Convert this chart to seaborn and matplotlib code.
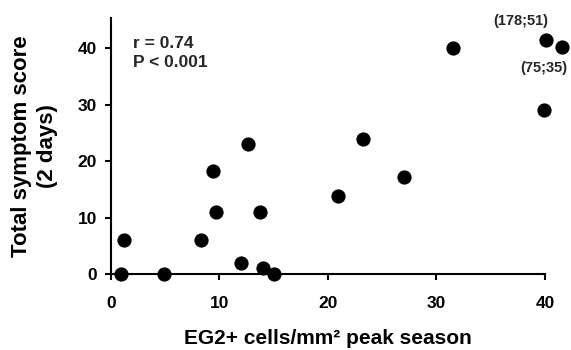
import matplotlib
matplotlib.use("Agg")
import matplotlib.pyplot as plt
import seaborn as sns
import pandas as pd

# Data
eg2_cells = [0.9, 1.2, 4.9, 8.3, 9.4, 9.7, 12.0, 12.6, 13.7, 14.0, 15.0,
             20.9, 23.2, 27.0, 31.5, 39.9, 40.1, 41.6]
symptom_score = [0, 6, 0, 6, 18.3, 11, 1.9, 23, 11, 1.1, 0,
                 13.9, 24, 17.2, 40, 29, 41.5, 40.2]
x_ticks = [0, 10, 20, 30, 40]
y_ticks = [0, 10, 20, 30, 40]
annotations = ["(178;51)", "(75;35)"]
stats_text = "r = 0.74\nP < 0.001"

df = pd.DataFrame({"x": eg2_cells, "y": symptom_score})

sns.set_theme(style="white")
plt.rcParams["font.family"] = ["Liberation Sans", "DejaVu Sans"]
plt.rcParams["font.weight"] = "bold"

fig = plt.figure(figsize=(5.71, 3.5), dpi=100)
ax = fig.add_axes([0.1944, 0.217, 0.760, 0.731])

sns.scatterplot(data=df, x="x", y="y", ax=ax, color="black", s=105,
                edgecolor="black", linewidth=0, clip_on=False, zorder=3, legend=False)

ax.set_xlim(0, 40)
ax.set_ylim(0, 45.3)
ax.set_xticks(x_ticks)
ax.set_yticks(y_ticks)
ax.set_xticklabels([str(t) for t in x_ticks], fontsize=12.5, fontweight="bold")
ax.set_yticklabels([str(t) for t in y_ticks], fontsize=12.5, fontweight="bold")

for side in ["top", "right"]:
    ax.spines[side].set_visible(False)
for side in ["left", "bottom"]:
    ax.spines[side].set_linewidth(1.5)
    ax.spines[side].set_color("black")
ax.spines["bottom"].set_bounds(0, 40)

ax.tick_params(axis="both", direction="out", length=4.5, width=1.5, color="black",
               labelcolor="black", bottom=True, left=True)
ax.tick_params(axis="x", pad=11)
ax.tick_params(axis="y", pad=5.5)

ax.set_xlabel("EG2+ cells/mm² peak season", fontsize=15,
              fontweight="bold", labelpad=13, color="black")
ax.set_ylabel("Total symptom score\n(2 days)", fontsize=16, fontweight="bold",
              labelpad=14.5, color="black", linespacing=1.3)

ax.text(0.05, 0.93, stats_text, transform=ax.transAxes, fontsize=12.5,
        fontweight="bold", va="top", ha="left", linespacing=1.3)

ax.annotate(annotations[0], xy=(eg2_cells[16], symptom_score[16]),
            xytext=(-18, 13.5), textcoords="offset points", ha="center",
            va="center", fontsize=10.5, fontweight="bold", annotation_clip=False)
ax.annotate(annotations[1], xy=(eg2_cells[16], symptom_score[16]),
            xytext=(-1.4, -20.3), textcoords="offset points", ha="center",
            va="center", fontsize=10.5, fontweight="bold", annotation_clip=False)

fig.savefig("out.png", dpi=100)
